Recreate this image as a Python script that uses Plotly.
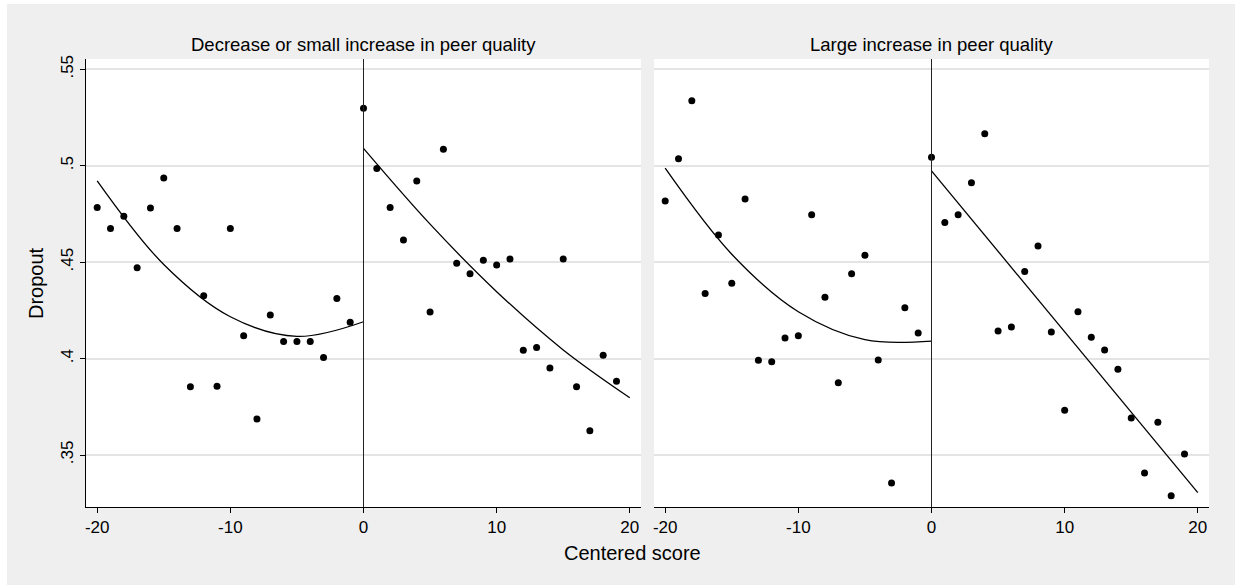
import plotly.graph_objects as go

# Centered score bins on each side of the cutoff
score_left = list(range(-20, 0))
score_right = list(range(0, 20))

# Mean dropout per bin: decrease or small increase in peer quality
dropout_small_left = [0.4784, 0.4674, 0.4738, 0.4471, 0.4781, 0.4936, 0.4674, 0.3854, 0.4326, 0.3856,
                      0.4674, 0.4119, 0.3687, 0.4226, 0.4088, 0.4088, 0.4088, 0.4005, 0.4312, 0.4188]
dropout_small_right = [0.5298, 0.4985, 0.4784, 0.4615, 0.4921, 0.4242, 0.5085, 0.4494, 0.4440, 0.4510,
                       0.4485, 0.4516, 0.4043, 0.4057, 0.3951, 0.4516, 0.3854, 0.3626, 0.4017, 0.3882]

# Mean dropout per bin: large increase in peer quality
dropout_large_left = [0.4817, 0.5036, 0.5337, 0.4337, 0.4641, 0.4390, 0.4828, 0.3991, 0.3984, 0.4107,
                      0.4119, 0.4746, 0.4318, 0.3875, 0.4440, 0.4536, 0.3993, 0.3355, 0.4264, 0.4133]
dropout_large_right = [0.5044, 0.4705, 0.4746, 0.4912, 0.5166, 0.4143, 0.4164, 0.4451, 0.4584, 0.4138,
                       0.3732, 0.4243, 0.4110, 0.4045, 0.3945, 0.3692, 0.3407, 0.3670, 0.3289, 0.3505]

# Fitted values (quadratic / linear fits) on each side of the cutoff
fit_x_left = [-20, -15, -10, -5, 0]
fit_x_right = [0, 5, 10, 15, 20]
fit_small_left = [0.4922, 0.4488, 0.4217, 0.4115, 0.4191]
fit_small_right = [0.5090, 0.4697, 0.4347, 0.4045, 0.3797]
fit_large_left = [0.4987, 0.4541, 0.4243, 0.4098, 0.4091]
fit_line_x = [0, 20]
fit_large_right = [0.4973, 0.3305]

panel_titles = ["Decrease or small increase in peer quality", "Large increase in peer quality"]
x_ticks = [-20, -10, 0, 10, 20]
x_ticktext = ["-20", "-10", "0", "10", "20"]
y_ticks = [0.35, 0.40, 0.45, 0.50, 0.55]
y_ticktext = [".35", ".4", ".45", ".5", ".55"]

FONT = "Liberation Sans, Arial, Helvetica, sans-serif"
BG = "#EFEFEF"

fig = go.Figure()

marker = dict(color="black", size=7)
line = dict(color="black", width=1.3)

panels = [
    ("x", "y", dropout_small_left, dropout_small_right, fit_small_left, fit_x_right, fit_small_right),
    ("x2", "y2", dropout_large_left, dropout_large_right, fit_large_left, fit_line_x, fit_large_right),
]
for xa, ya, pts_l, pts_r, fit_l, fx_r, fit_r in panels:
    fig.add_trace(go.Scatter(x=score_left + score_right, y=pts_l + pts_r, mode="markers",
                             marker=marker, xaxis=xa, yaxis=ya, showlegend=False))
    fig.add_trace(go.Scatter(x=fit_x_left, y=fit_l, mode="lines", line=dict(shape="spline", **line),
                             xaxis=xa, yaxis=ya, showlegend=False))
    fig.add_trace(go.Scatter(x=fx_r, y=fit_r, mode="lines", line=dict(shape="spline", **line),
                             xaxis=xa, yaxis=ya, showlegend=False))
    # cutoff line
    fig.add_shape(type="line", xref=xa, yref=f"{ya} domain", x0=0, x1=0, y0=0, y1=1,
                  line=dict(color="#222222", width=1))

# plot area geometry (pixels) used for positioning text in paper coordinates
L, R, T, B = 86, 26, 59, 78
W, H = 1235 - L - R, 585 - T - B


def px_x(px):
    return (px - L) / W


def px_y(py):
    return (585 - B - py) / H


xaxis_common = dict(range=[-20.84, 20.84], tickvals=x_ticks, ticktext=x_ticktext, showgrid=False,
                    zeroline=False, showline=True, linecolor="black", linewidth=1, ticks="outside",
                    ticklen=5, tickcolor="black", tickfont=dict(family=FONT, size=17, color="black"),
                    anchor=None)
yaxis_common = dict(range=[0.32304, 0.55534], tickvals=y_ticks, showgrid=True, gridcolor="#E4E4E4",
                    gridwidth=1.5, zeroline=False)

fig.update_layout(
    width=1235, height=585,
    margin=dict(l=L, r=R, t=T, b=B),
    paper_bgcolor=BG, plot_bgcolor="white",
    font=dict(family=FONT, color="black"),
    xaxis=dict(domain=[0, px_x(641)], anchor="y", **{k: v for k, v in xaxis_common.items() if k != "anchor"}),
    xaxis2=dict(domain=[px_x(654), 1], anchor="y2", **{k: v for k, v in xaxis_common.items() if k != "anchor"}),
    yaxis=dict(anchor="x", ticktext=y_ticktext, showline=True, linecolor="black", linewidth=1,
               ticks="outside", ticklen=5, tickcolor="black", tickangle=-90,
               tickfont=dict(family=FONT, size=17, color="black"), **yaxis_common),
    yaxis2=dict(anchor="x2", matches="y", showticklabels=False, showline=False, ticks="", **yaxis_common),
)

annotations = [
    dict(text=panel_titles[0], x=px_x(363.5), y=px_y(44), font=dict(size=18.5)),
    dict(text=panel_titles[1], x=px_x(931.5), y=px_y(44), font=dict(size=18.5)),
    dict(text="Centered score", x=px_x(632), y=px_y(552.5), font=dict(size=20)),
    dict(text="Dropout", x=px_x(36), y=px_y(283), font=dict(size=20), textangle=-90),
]
for a in annotations:
    fig.add_annotation(xref="paper", yref="paper", showarrow=False, xanchor="center", yanchor="middle",
                       **a)

# thin white border on the left and top of the graph region
fig.add_shape(type="rect", xref="paper", yref="paper", x0=px_x(0), x1=px_x(7), y0=px_y(585), y1=px_y(0),
              fillcolor="white", line=dict(width=0), layer="below")
fig.add_shape(type="rect", xref="paper", yref="paper", x0=px_x(0), x1=px_x(1235), y0=px_y(4), y1=px_y(0),
              fillcolor="white", line=dict(width=0), layer="below")

fig.write_html("out.html")
